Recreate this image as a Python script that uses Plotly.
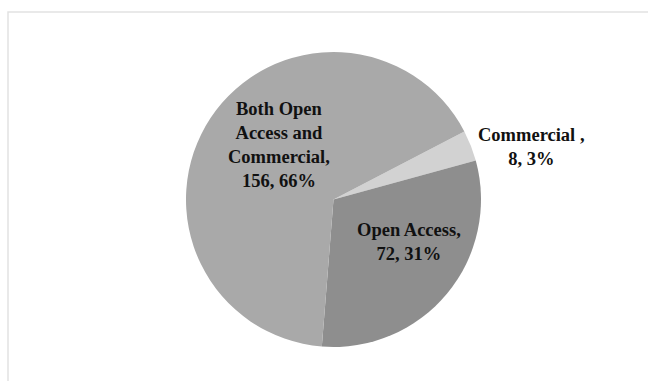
import plotly.graph_objects as go

# Journal access model breakdown
labels = ["Commercial ", "Open Access", "Both Open Access and Commercial"]
values = [8, 72, 156]
colors = ["#d2d2d2", "#8e8e8e", "#a9a9a9"]

# Label text lines (wrapped) keyed by category
label_lines = {
    "Commercial ": ["Commercial ,"],
    "Open Access": ["Open Access,"],
    "Both Open Access and Commercial": ["Both Open", "Access and", "Commercial,"],
}
# Label anchor positions in paper coordinates
label_pos = {
    "Commercial ": (531 / 648, 1 - 147 / 381),
    "Open Access": (409 / 648, 1 - 242 / 381),
    "Both Open Access and Commercial": (279 / 648, 1 - 145 / 381),
}

W, H = 648, 381
cx, cy, r = 333.5, 199.5, 147.5

fig = go.Figure(
    go.Pie(
        labels=labels,
        values=values,
        sort=False,
        direction="clockwise",
        rotation=62.5,
        marker=dict(colors=colors, line=dict(width=0)),
        textinfo="none",
        hoverinfo="label+value+percent",
        showlegend=False,
        domain=dict(
            x=[(cx - r) / W, (cx + r) / W],
            y=[(H - cy - r) / H, (H - cy + r) / H],
        ),
    )
)

total = sum(values)
annotations = []
for lab, val in zip(labels, values):
    pct = round(val / total * 100)
    lines = label_lines[lab] + [f"{val}, {pct}%"]
    x, y = label_pos[lab]
    annotations.append(
        dict(
            x=x, y=y, xref="paper", yref="paper",
            xanchor="center", yanchor="middle",
            text="<br>".join(f"<b>{ln}</b>" for ln in lines),
            showarrow=False,
            align="center",
            font=dict(family="Times New Roman, Liberation Serif, DejaVu Serif, serif",
                      size=18.5, color="#111111"),
        )
    )

fig.update_layout(
    width=W,
    height=H,
    margin=dict(l=0, r=0, t=0, b=0),
    paper_bgcolor="white",
    plot_bgcolor="white",
    annotations=annotations,
    shapes=[
        dict(
            type="rect", xref="paper", yref="paper",
            x0=8 / W, x1=1.05, y0=-0.05, y1=1 - 12 / H,
            line=dict(color="#e2e2e2", width=1.5),
            fillcolor="rgba(0,0,0,0)",
            layer="below",
        )
    ],
)

fig.write_html("out.html")
